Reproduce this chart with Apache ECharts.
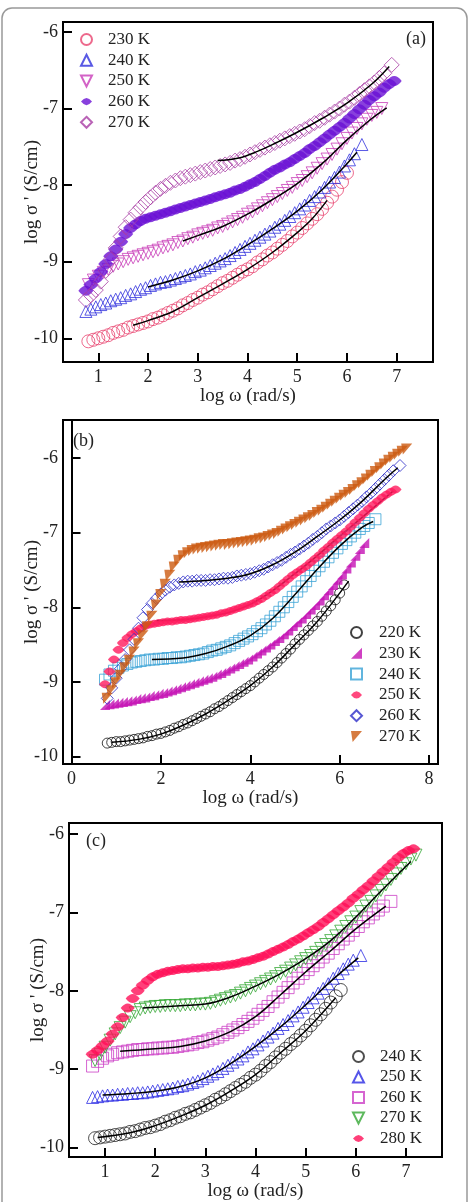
<!DOCTYPE html>
<html>
<head>
<meta charset="utf-8">
<script src="https://cdn.jsdelivr.net/npm/echarts@6/dist/echarts.min.js"></script>
<style>
  html, body { margin: 0; padding: 0; background: #fff; }
  #chart { width: 469px; height: 1202px; }
</style>
</head>
<body>
<div id="chart"></div>
<script>
// tick labels
const xTicksA = [1, 2, 3, 4, 5, 6, 7];
const xTicksB = [0, 2, 4, 6, 8];
const xTicksC = [1, 2, 3, 4, 5, 6, 7];
const yTicks = [-10, -9, -8, -7, -6];

// legend labels
const namesA = ['230 K', '240 K', '250 K', '260 K', '270 K'];
const namesB = ['220 K', '230 K', '240 K', '250 K', '260 K', '270 K'];
const namesC = ['240 K', '250 K', '260 K', '270 K', '280 K'];

// ---- panel (a) ----
const a230 = [[0.8,-10.04],[0.9,-10.02],[1.0,-10.0],[1.1,-9.98],[1.2,-9.96],[1.3,-9.93],[1.4,-9.91],[1.5,-9.89],[1.6,-9.86],[1.7,-9.84],[1.8,-9.82],[1.9,-9.80],[2.0,-9.78],[2.1,-9.75],[2.2,-9.73],[2.3,-9.70],[2.4,-9.67],[2.5,-9.64],[2.6,-9.61],[2.7,-9.57],[2.8,-9.54],[2.9,-9.50],[3.0,-9.47],[3.1,-9.43],[3.2,-9.40],[3.3,-9.36],[3.4,-9.32],[3.5,-9.28],[3.6,-9.25],[3.7,-9.21],[3.8,-9.17],[3.9,-9.13],[4.0,-9.10],[4.1,-9.06],[4.2,-9.01],[4.3,-8.97],[4.4,-8.92],[4.5,-8.88],[4.6,-8.83],[4.7,-8.78],[4.8,-8.73],[4.9,-8.67],[5.0,-8.62],[5.1,-8.56],[5.2,-8.50],[5.3,-8.44],[5.4,-8.38],[5.5,-8.31],[5.6,-8.23],[5.7,-8.15],[5.8,-8.06],[5.9,-7.96],[6.0,-7.84]];
const a230Fit = [[1.7,-9.83],[2.0,-9.77],[2.5,-9.65],[3.0,-9.47],[3.5,-9.29],[4.0,-9.10],[4.5,-8.88],[5.0,-8.62],[5.3,-8.44],[5.6,-8.2]];
const a240 = [[0.75,-9.65],[0.85,-9.62],[0.95,-9.59],[1.05,-9.56],[1.15,-9.54],[1.25,-9.51],[1.35,-9.49],[1.45,-9.47],[1.55,-9.44],[1.65,-9.42],[1.75,-9.39],[1.85,-9.36],[1.95,-9.34],[2.05,-9.31],[2.15,-9.29],[2.25,-9.27],[2.35,-9.26],[2.45,-9.24],[2.55,-9.22],[2.65,-9.20],[2.75,-9.18],[2.85,-9.16],[2.95,-9.13],[3.05,-9.11],[3.15,-9.08],[3.25,-9.05],[3.35,-9.02],[3.45,-8.99],[3.55,-8.96],[3.65,-8.92],[3.75,-8.88],[3.85,-8.84],[3.95,-8.80],[4.05,-8.76],[4.15,-8.72],[4.25,-8.68],[4.35,-8.64],[4.45,-8.60],[4.55,-8.55],[4.65,-8.51],[4.75,-8.46],[4.85,-8.41],[4.95,-8.36],[5.05,-8.31],[5.15,-8.26],[5.25,-8.20],[5.35,-8.15],[5.45,-8.09],[5.55,-8.03],[5.65,-7.96],[5.75,-7.90],[5.85,-7.83],[5.95,-7.75],[6.05,-7.67],[6.15,-7.59],[6.3,-7.47]];
const a240Fit = [[2.0,-9.33],[2.5,-9.24],[3.0,-9.12],[3.5,-8.97],[4.0,-8.78],[4.5,-8.57],[5.0,-8.34],[5.5,-8.06],[6.0,-7.72],[6.2,-7.57]];
const a250 = [[0.8,-9.30],[0.9,-9.24],[1.0,-9.19],[1.1,-9.14],[1.2,-9.10],[1.3,-9.06],[1.4,-9.03],[1.5,-9.00],[1.6,-8.97],[1.7,-8.95],[1.8,-8.93],[1.9,-8.91],[2.0,-8.89],[2.1,-8.87],[2.2,-8.85],[2.3,-8.82],[2.4,-8.80],[2.5,-8.78],[2.6,-8.75],[2.7,-8.73],[2.8,-8.70],[2.9,-8.68],[3.0,-8.65],[3.1,-8.63],[3.2,-8.61],[3.3,-8.59],[3.4,-8.56],[3.5,-8.54],[3.6,-8.51],[3.7,-8.48],[3.8,-8.45],[3.9,-8.42],[4.0,-8.38],[4.1,-8.35],[4.2,-8.31],[4.3,-8.27],[4.4,-8.23],[4.5,-8.19],[4.6,-8.15],[4.7,-8.11],[4.8,-8.07],[4.9,-8.03],[5.0,-7.98],[5.1,-7.94],[5.2,-7.89],[5.3,-7.84],[5.4,-7.78],[5.5,-7.72],[5.6,-7.66],[5.7,-7.60],[5.8,-7.53],[5.9,-7.46],[6.0,-7.39],[6.1,-7.32],[6.2,-7.26],[6.3,-7.20],[6.4,-7.14],[6.5,-7.09],[6.6,-7.05],[6.7,-7.00]];
const a250Fit = [[2.7,-8.73],[3.0,-8.66],[3.5,-8.54],[4.0,-8.38],[4.5,-8.19],[5.0,-7.98],[5.5,-7.72],[6.0,-7.41],[6.5,-7.13],[6.8,-6.99]];
const a260 = [[0.75,-9.38],[0.85,-9.30],[0.95,-9.22],[1.05,-9.13],[1.15,-9.03],[1.25,-8.93],[1.35,-8.84],[1.45,-8.74],[1.55,-8.64],[1.65,-8.56],[1.75,-8.51],[1.85,-8.47],[1.95,-8.44],[2.05,-8.42],[2.15,-8.40],[2.25,-8.38],[2.35,-8.36],[2.45,-8.34],[2.55,-8.32],[2.65,-8.30],[2.75,-8.28],[2.85,-8.26],[2.95,-8.24],[3.05,-8.22],[3.15,-8.20],[3.25,-8.18],[3.35,-8.16],[3.45,-8.14],[3.55,-8.12],[3.65,-8.10],[3.75,-8.07],[3.85,-8.05],[3.95,-8.02],[4.05,-7.99],[4.15,-7.96],[4.25,-7.92],[4.35,-7.88],[4.45,-7.84],[4.55,-7.80],[4.65,-7.77],[4.75,-7.73],[4.85,-7.70],[4.95,-7.66],[5.05,-7.62],[5.15,-7.58],[5.25,-7.53],[5.35,-7.49],[5.45,-7.44],[5.55,-7.39],[5.65,-7.34],[5.75,-7.29],[5.85,-7.24],[5.95,-7.19],[6.05,-7.13],[6.15,-7.07],[6.25,-7.01],[6.35,-6.95],[6.45,-6.89],[6.55,-6.84],[6.65,-6.79],[6.75,-6.73],[6.85,-6.68],[6.95,-6.64]];
const a270 = [[0.75,-9.50],[0.85,-9.44],[0.95,-9.37],[1.05,-9.26],[1.15,-9.12],[1.25,-8.97],[1.35,-8.82],[1.45,-8.67],[1.55,-8.55],[1.65,-8.45],[1.75,-8.36],[1.85,-8.29],[1.95,-8.22],[2.05,-8.16],[2.15,-8.10],[2.25,-8.05],[2.35,-8.01],[2.45,-7.97],[2.55,-7.94],[2.65,-7.91],[2.75,-7.89],[2.85,-7.87],[2.95,-7.85],[3.05,-7.83],[3.15,-7.81],[3.25,-7.79],[3.35,-7.77],[3.45,-7.75],[3.55,-7.73],[3.65,-7.71],[3.75,-7.68],[3.85,-7.66],[3.95,-7.63],[4.05,-7.60],[4.15,-7.57],[4.25,-7.54],[4.35,-7.51],[4.45,-7.48],[4.55,-7.45],[4.65,-7.42],[4.75,-7.39],[4.85,-7.36],[4.95,-7.33],[5.05,-7.30],[5.15,-7.27],[5.25,-7.23],[5.35,-7.19],[5.45,-7.16],[5.55,-7.12],[5.65,-7.08],[5.75,-7.04],[5.85,-7.00],[5.95,-6.95],[6.05,-6.91],[6.15,-6.86],[6.25,-6.81],[6.35,-6.76],[6.45,-6.71],[6.55,-6.66],[6.65,-6.60],[6.75,-6.54],[6.9,-6.43]];
const a270Fit = [[3.4,-7.68],[3.8,-7.65],[4.2,-7.56],[4.6,-7.44],[5.0,-7.31],[5.5,-7.13],[6.0,-6.93],[6.5,-6.68],[6.85,-6.45]];

// ---- panel (b) ----
const b220 = [[0.8,-9.82],[0.9,-9.81],[1.0,-9.80],[1.1,-9.80],[1.2,-9.79],[1.3,-9.78],[1.4,-9.77],[1.5,-9.76],[1.6,-9.75],[1.7,-9.73],[1.8,-9.72],[1.9,-9.70],[2.0,-9.69],[2.1,-9.67],[2.2,-9.65],[2.3,-9.62],[2.4,-9.60],[2.5,-9.57],[2.6,-9.55],[2.7,-9.52],[2.8,-9.49],[2.9,-9.46],[3.0,-9.43],[3.1,-9.40],[3.2,-9.36],[3.3,-9.33],[3.4,-9.29],[3.5,-9.25],[3.6,-9.21],[3.7,-9.17],[3.8,-9.13],[3.9,-9.09],[4.0,-9.05],[4.1,-9.00],[4.2,-8.95],[4.3,-8.90],[4.4,-8.85],[4.5,-8.80],[4.6,-8.74],[4.7,-8.68],[4.8,-8.62],[4.9,-8.56],[5.0,-8.49],[5.1,-8.43],[5.2,-8.37],[5.3,-8.31],[5.4,-8.25],[5.5,-8.19],[5.6,-8.12],[5.7,-8.05],[5.8,-7.98],[5.9,-7.90],[6.0,-7.81],[6.1,-7.70]];
const b220Fit = [[0.9,-9.81],[1.5,-9.77],[2.0,-9.70],[2.5,-9.58],[3.0,-9.43],[3.5,-9.25],[4.0,-9.05],[4.5,-8.80],[5.0,-8.50],[5.5,-8.19],[6.0,-7.81],[6.2,-7.65]];
const b230 = [[0.75,-9.31],[0.85,-9.30],[0.95,-9.29],[1.05,-9.28],[1.15,-9.27],[1.25,-9.26],[1.35,-9.25],[1.45,-9.23],[1.55,-9.22],[1.65,-9.21],[1.75,-9.19],[1.85,-9.18],[1.95,-9.16],[2.05,-9.15],[2.15,-9.13],[2.25,-9.11],[2.35,-9.09],[2.45,-9.07],[2.55,-9.05],[2.65,-9.03],[2.75,-9.01],[2.85,-8.99],[2.95,-8.97],[3.05,-8.95],[3.15,-8.93],[3.25,-8.90],[3.35,-8.88],[3.45,-8.85],[3.55,-8.82],[3.65,-8.79],[3.75,-8.76],[3.85,-8.73],[3.95,-8.70],[4.05,-8.66],[4.15,-8.62],[4.25,-8.58],[4.35,-8.54],[4.45,-8.50],[4.55,-8.45],[4.65,-8.41],[4.75,-8.36],[4.85,-8.31],[4.95,-8.25],[5.05,-8.20],[5.15,-8.15],[5.25,-8.09],[5.35,-8.03],[5.45,-7.97],[5.55,-7.91],[5.65,-7.84],[5.75,-7.77],[5.85,-7.70],[5.95,-7.63],[6.05,-7.56],[6.15,-7.48],[6.25,-7.40],[6.35,-7.31],[6.45,-7.22],[6.55,-7.14]];
const b240 = [[0.75,-8.97],[0.85,-8.90],[0.95,-8.85],[1.05,-8.81],[1.15,-8.78],[1.25,-8.76],[1.35,-8.74],[1.45,-8.73],[1.55,-8.72],[1.65,-8.71],[1.75,-8.70],[1.85,-8.70],[1.95,-8.69],[2.05,-8.69],[2.15,-8.68],[2.25,-8.68],[2.35,-8.67],[2.45,-8.67],[2.55,-8.66],[2.65,-8.65],[2.75,-8.64],[2.85,-8.63],[2.95,-8.62],[3.05,-8.60],[3.15,-8.58],[3.25,-8.57],[3.35,-8.55],[3.45,-8.53],[3.55,-8.51],[3.65,-8.48],[3.75,-8.45],[3.85,-8.42],[3.95,-8.39],[4.05,-8.36],[4.15,-8.32],[4.25,-8.28],[4.35,-8.23],[4.45,-8.18],[4.55,-8.12],[4.65,-8.06],[4.75,-8.00],[4.85,-7.93],[4.95,-7.86],[5.05,-7.79],[5.15,-7.72],[5.25,-7.65],[5.35,-7.58],[5.45,-7.51],[5.55,-7.45],[5.65,-7.39],[5.75,-7.33],[5.85,-7.27],[5.95,-7.21],[6.05,-7.15],[6.15,-7.10],[6.25,-7.05],[6.35,-7.00],[6.45,-6.95],[6.55,-6.91],[6.65,-6.87],[6.8,-6.82]];
const b240Fit = [[1.8,-8.70],[2.5,-8.68],[3.0,-8.62],[3.5,-8.52],[4.0,-8.38],[4.5,-8.15],[5.0,-7.83],[5.5,-7.49],[6.0,-7.18],[6.5,-6.93],[6.75,-6.85]];
const b250 = [[0.75,-9.03],[0.85,-8.86],[0.95,-8.70],[1.05,-8.57],[1.15,-8.48],[1.25,-8.41],[1.35,-8.36],[1.45,-8.32],[1.55,-8.28],[1.65,-8.25],[1.75,-8.23],[1.85,-8.22],[1.95,-8.21],[2.05,-8.20],[2.15,-8.19],[2.25,-8.19],[2.35,-8.18],[2.45,-8.17],[2.55,-8.17],[2.65,-8.16],[2.75,-8.15],[2.85,-8.14],[2.95,-8.13],[3.05,-8.12],[3.15,-8.11],[3.25,-8.10],[3.35,-8.08],[3.45,-8.07],[3.55,-8.05],[3.65,-8.03],[3.75,-8.01],[3.85,-7.99],[3.95,-7.97],[4.05,-7.95],[4.15,-7.92],[4.25,-7.89],[4.35,-7.85],[4.45,-7.81],[4.55,-7.77],[4.65,-7.72],[4.75,-7.67],[4.85,-7.62],[4.95,-7.57],[5.05,-7.53],[5.15,-7.49],[5.25,-7.45],[5.35,-7.40],[5.45,-7.35],[5.55,-7.30],[5.65,-7.24],[5.75,-7.19],[5.85,-7.13],[5.95,-7.08],[6.05,-7.03],[6.15,-6.98],[6.25,-6.92],[6.35,-6.86],[6.45,-6.80],[6.55,-6.74],[6.65,-6.68],[6.75,-6.63],[6.85,-6.58],[6.95,-6.53],[7.05,-6.49],[7.15,-6.45],[7.25,-6.42]];
const b250Fit = [[1.9,-8.18],[3.0,-8.13],[4.0,-7.96],[5.0,-7.55],[6.0,-7.05],[7.2,-6.44]];
const b260 = [[0.8,-9.22],[0.9,-9.08],[1.0,-8.95],[1.1,-8.82],[1.2,-8.70],[1.3,-8.57],[1.4,-8.43],[1.5,-8.28],[1.6,-8.14],[1.7,-8.03],[1.8,-7.95],[1.9,-7.88],[2.0,-7.82],[2.1,-7.77],[2.2,-7.73],[2.3,-7.70],[2.4,-7.68],[2.5,-7.66],[2.6,-7.65],[2.7,-7.65],[2.8,-7.64],[2.9,-7.64],[3.0,-7.64],[3.1,-7.63],[3.2,-7.63],[3.3,-7.62],[3.4,-7.61],[3.5,-7.61],[3.6,-7.60],[3.7,-7.58],[3.8,-7.57],[3.9,-7.56],[4.0,-7.55],[4.1,-7.53],[4.2,-7.51],[4.3,-7.49],[4.4,-7.46],[4.5,-7.43],[4.6,-7.40],[4.7,-7.37],[4.8,-7.33],[4.9,-7.29],[5.0,-7.26],[5.1,-7.22],[5.2,-7.18],[5.3,-7.14],[5.4,-7.09],[5.5,-7.05],[5.6,-7.00],[5.7,-6.95],[5.8,-6.91],[5.9,-6.87],[6.0,-6.83],[6.1,-6.78],[6.2,-6.73],[6.3,-6.68],[6.4,-6.63],[6.5,-6.58],[6.6,-6.52],[6.7,-6.47],[6.8,-6.41],[6.9,-6.35],[7.0,-6.29],[7.1,-6.23],[7.2,-6.17],[7.35,-6.10]];
const b260Fit = [[2.4,-7.66],[3.0,-7.64],[3.5,-7.61],[4.0,-7.55],[4.5,-7.43],[5.0,-7.26],[5.5,-7.05],[6.0,-6.83],[6.5,-6.58],[7.0,-6.29],[7.3,-6.13]];
const b270 = [[0.8,-9.22],[0.9,-9.12],[1.0,-9.01],[1.1,-8.91],[1.2,-8.81],[1.3,-8.71],[1.4,-8.60],[1.5,-8.49],[1.6,-8.38],[1.7,-8.26],[1.8,-8.12],[1.9,-7.97],[2.0,-7.83],[2.1,-7.69],[2.2,-7.57],[2.3,-7.46],[2.4,-7.37],[2.5,-7.31],[2.6,-7.27],[2.7,-7.24],[2.8,-7.22],[2.9,-7.21],[3.0,-7.20],[3.1,-7.19],[3.2,-7.18],[3.3,-7.17],[3.4,-7.16],[3.5,-7.16],[3.6,-7.15],[3.7,-7.14],[3.8,-7.13],[3.9,-7.12],[4.0,-7.11],[4.1,-7.10],[4.2,-7.08],[4.3,-7.07],[4.4,-7.05],[4.5,-7.03],[4.6,-7.01],[4.7,-6.98],[4.8,-6.95],[4.9,-6.92],[5.0,-6.89],[5.1,-6.86],[5.2,-6.83],[5.3,-6.80],[5.4,-6.77],[5.5,-6.73],[5.6,-6.70],[5.7,-6.66],[5.8,-6.62],[5.9,-6.58],[6.0,-6.54],[6.1,-6.50],[6.2,-6.46],[6.3,-6.42],[6.4,-6.37],[6.5,-6.33],[6.6,-6.28],[6.7,-6.23],[6.8,-6.18],[6.9,-6.13],[7.0,-6.08],[7.1,-6.03],[7.2,-5.99],[7.3,-5.95],[7.4,-5.91],[7.5,-5.88]];

// ---- panel (c) ----
const c240 = [[0.8,-9.88],[0.9,-9.87],[1.0,-9.86],[1.1,-9.85],[1.2,-9.84],[1.3,-9.83],[1.4,-9.82],[1.5,-9.80],[1.6,-9.79],[1.7,-9.77],[1.8,-9.75],[1.9,-9.74],[2.0,-9.72],[2.1,-9.70],[2.2,-9.67],[2.3,-9.65],[2.4,-9.62],[2.5,-9.60],[2.6,-9.57],[2.7,-9.55],[2.8,-9.52],[2.9,-9.49],[3.0,-9.46],[3.1,-9.43],[3.2,-9.39],[3.3,-9.36],[3.4,-9.32],[3.5,-9.28],[3.6,-9.24],[3.7,-9.20],[3.8,-9.16],[3.9,-9.11],[4.0,-9.07],[4.1,-9.02],[4.2,-8.96],[4.3,-8.91],[4.4,-8.85],[4.5,-8.79],[4.6,-8.74],[4.7,-8.68],[4.8,-8.63],[4.9,-8.57],[5.0,-8.51],[5.1,-8.44],[5.2,-8.37],[5.3,-8.30],[5.4,-8.23],[5.5,-8.15],[5.6,-8.07],[5.7,-7.99]];
const c240Fit = [[0.85,-9.87],[1.5,-9.81],[2.0,-9.72],[2.5,-9.60],[3.0,-9.46],[3.5,-9.28],[4.0,-9.07],[4.5,-8.79],[5.0,-8.51],[5.6,-8.09]];
const c250 = [[0.75,-9.36],[0.85,-9.35],[0.95,-9.34],[1.05,-9.33],[1.15,-9.33],[1.25,-9.32],[1.35,-9.32],[1.45,-9.31],[1.55,-9.31],[1.65,-9.30],[1.75,-9.30],[1.85,-9.29],[1.95,-9.28],[2.05,-9.27],[2.15,-9.26],[2.25,-9.25],[2.35,-9.24],[2.45,-9.22],[2.55,-9.21],[2.65,-9.19],[2.75,-9.17],[2.85,-9.15],[2.95,-9.12],[3.05,-9.09],[3.15,-9.06],[3.25,-9.03],[3.35,-8.99],[3.45,-8.95],[3.55,-8.91],[3.65,-8.87],[3.75,-8.83],[3.85,-8.78],[3.95,-8.74],[4.05,-8.69],[4.15,-8.64],[4.25,-8.59],[4.35,-8.54],[4.45,-8.48],[4.55,-8.43],[4.65,-8.38],[4.75,-8.32],[4.85,-8.27],[4.95,-8.21],[5.05,-8.15],[5.15,-8.09],[5.25,-8.03],[5.35,-7.97],[5.45,-7.91],[5.55,-7.84],[5.65,-7.78],[5.75,-7.72],[5.85,-7.66],[5.95,-7.61],[6.1,-7.55]];
const c250Fit = [[0.95,-9.33],[1.5,-9.31],[2.0,-9.28],[2.5,-9.22],[3.0,-9.11],[3.5,-8.93],[4.0,-8.71],[4.5,-8.46],[5.0,-8.18],[5.5,-7.88],[6.05,-7.58]];
const c260 = [[0.75,-8.96],[0.85,-8.90],[0.95,-8.86],[1.05,-8.83],[1.15,-8.81],[1.25,-8.79],[1.35,-8.78],[1.45,-8.77],[1.55,-8.76],[1.65,-8.75],[1.75,-8.75],[1.85,-8.74],[1.95,-8.74],[2.05,-8.73],[2.15,-8.73],[2.25,-8.72],[2.35,-8.72],[2.45,-8.71],[2.55,-8.70],[2.65,-8.69],[2.75,-8.68],[2.85,-8.66],[2.95,-8.65],[3.05,-8.63],[3.15,-8.61],[3.25,-8.59],[3.35,-8.56],[3.45,-8.53],[3.55,-8.50],[3.65,-8.47],[3.75,-8.43],[3.85,-8.39],[3.95,-8.35],[4.05,-8.30],[4.15,-8.25],[4.25,-8.20],[4.35,-8.14],[4.45,-8.08],[4.55,-8.02],[4.65,-7.96],[4.75,-7.90],[4.85,-7.84],[4.95,-7.78],[5.05,-7.73],[5.15,-7.68],[5.25,-7.63],[5.35,-7.57],[5.45,-7.52],[5.55,-7.46],[5.65,-7.40],[5.75,-7.34],[5.85,-7.29],[5.95,-7.23],[6.05,-7.18],[6.15,-7.12],[6.25,-7.07],[6.35,-7.02],[6.45,-6.97],[6.55,-6.92],[6.7,-6.86]];
const c260Fit = [[1.3,-8.77],[2.0,-8.74],[2.5,-8.71],[3.0,-8.64],[3.5,-8.52],[4.0,-8.33],[4.5,-8.05],[5.0,-7.76],[5.5,-7.49],[6.0,-7.21],[6.6,-6.92]];
const c270 = [[0.8,-8.89],[0.9,-8.81],[1.0,-8.72],[1.1,-8.63],[1.2,-8.55],[1.3,-8.47],[1.4,-8.40],[1.5,-8.33],[1.6,-8.28],[1.7,-8.24],[1.8,-8.22],[1.9,-8.21],[2.0,-8.20],[2.1,-8.20],[2.2,-8.19],[2.3,-8.19],[2.4,-8.19],[2.5,-8.19],[2.6,-8.18],[2.7,-8.18],[2.8,-8.18],[2.9,-8.17],[3.0,-8.17],[3.1,-8.16],[3.2,-8.14],[3.3,-8.12],[3.4,-8.10],[3.5,-8.08],[3.6,-8.06],[3.7,-8.03],[3.8,-8.00],[3.9,-7.97],[4.0,-7.94],[4.1,-7.91],[4.2,-7.88],[4.3,-7.85],[4.4,-7.82],[4.5,-7.78],[4.6,-7.75],[4.7,-7.71],[4.8,-7.67],[4.9,-7.63],[5.0,-7.59],[5.1,-7.55],[5.2,-7.51],[5.3,-7.46],[5.4,-7.41],[5.5,-7.36],[5.6,-7.30],[5.7,-7.24],[5.8,-7.18],[5.9,-7.12],[6.0,-7.06],[6.1,-6.99],[6.2,-6.92],[6.3,-6.86],[6.4,-6.79],[6.5,-6.72],[6.6,-6.65],[6.7,-6.58],[6.8,-6.51],[6.9,-6.44],[7.0,-6.38],[7.1,-6.32],[7.2,-6.27]];
const c270Fit = [[1.75,-8.22],[2.5,-8.19],[3.0,-8.17],[3.5,-8.08],[4.0,-7.94],[4.5,-7.78],[5.0,-7.59],[5.5,-7.36],[6.0,-7.06],[6.5,-6.73],[7.1,-6.35]];
const c280 = [[0.75,-8.81],[0.85,-8.76],[0.95,-8.70],[1.05,-8.64],[1.15,-8.55],[1.25,-8.46],[1.35,-8.34],[1.45,-8.22],[1.55,-8.10],[1.65,-8.00],[1.75,-7.93],[1.85,-7.87],[1.95,-7.82],[2.05,-7.79],[2.15,-7.77],[2.25,-7.75],[2.35,-7.74],[2.45,-7.73],[2.55,-7.72],[2.65,-7.72],[2.75,-7.71],[2.85,-7.71],[2.95,-7.70],[3.05,-7.70],[3.15,-7.69],[3.25,-7.69],[3.35,-7.68],[3.45,-7.67],[3.55,-7.66],[3.65,-7.65],[3.75,-7.63],[3.85,-7.62],[3.95,-7.60],[4.05,-7.58],[4.15,-7.56],[4.25,-7.53],[4.35,-7.50],[4.45,-7.47],[4.55,-7.44],[4.65,-7.41],[4.75,-7.37],[4.85,-7.34],[4.95,-7.30],[5.05,-7.26],[5.15,-7.22],[5.25,-7.18],[5.35,-7.13],[5.45,-7.08],[5.55,-7.03],[5.65,-6.98],[5.75,-6.93],[5.85,-6.88],[5.95,-6.82],[6.05,-6.77],[6.15,-6.71],[6.25,-6.66],[6.35,-6.60],[6.45,-6.54],[6.55,-6.48],[6.65,-6.42],[6.75,-6.36],[6.85,-6.30],[6.95,-6.25],[7.05,-6.21],[7.15,-6.19]];

// marker shapes
const TRI_DOWN = 'path://M0,0 L10,0 L5,10 Z';
const LENS = 'path://M0,5 Q5,-1.5 10,5 Q5,11.5 0,5 Z';
const WEDGE = 'path://M10,0 L10,10 L0,10 Z';
const FLAG = 'path://M0,0 L10,0 L1.5,10 Z';

const SERIF = '"Liberation Serif", "DejaVu Serif", serif';
const chart = echarts.init(document.getElementById('chart'));

// scatter series, hollow markers get a transparent fill
function pts(key, data, gi, symbol, size, color, hollow) {
    return {
        type: 'scatter', name: key, data: data,
        xAxisIndex: gi, yAxisIndex: gi,
        symbol: symbol, symbolSize: size,
        itemStyle: hollow
            ? { color: 'rgba(255,255,255,0)', borderColor: color, borderWidth: 1 }
            : { color: color },
        z: 2
    };
}
// black fit line (under = hidden below filled markers)
function fit(data, gi, under) {
    return {
        type: 'line', data: data, xAxisIndex: gi, yAxisIndex: gi,
        smooth: 0.4, showSymbol: false, silent: true,
        lineStyle: { color: '#000', width: 1.5 }, z: under ? 1 : 4
    };
}

function xAx(gi, min, max, ticks) {
    return {
        type: 'value', gridIndex: gi, min: min, max: max,
        name: 'log ω (rad/s)', nameLocation: 'middle', nameGap: 25, nameMoveOverlap: false,
        nameTextStyle: { fontFamily: SERIF, fontSize: 19, color: '#222' },
        axisLine: { lineStyle: { color: '#000', width: 2 } },
        axisTick: { inside: true, length: 9, customValues: ticks, lineStyle: { color: '#000', width: 2 } },
        axisLabel: { customValues: ticks, margin: 6, fontFamily: SERIF, fontSize: 18, color: '#222' },
        splitLine: { show: false }
    };
}
function yAx(gi, min, max) {
    return {
        type: 'value', gridIndex: gi, min: min, max: max,
        name: "log σ ' (S/cm)", nameLocation: 'middle', nameGap: 21, nameMoveOverlap: false,
        nameTextStyle: { fontFamily: SERIF, fontSize: 19, color: '#222' },
        axisLine: { lineStyle: { color: '#000', width: 2 } },
        axisTick: { inside: true, length: 9, customValues: yTicks, lineStyle: { color: '#000', width: 2 } },
        axisLabel: { customValues: yTicks, margin: 5, fontFamily: SERIF, fontSize: 18, color: '#222' },
        splitLine: { show: false }
    };
}
function leg(prefix, names, left, top, pad, gap) {
    return {
        data: names.map(n => prefix + n), orient: 'vertical', left: left, top: top,
        padding: 0, itemWidth: 11, itemHeight: 11, itemGap: gap, selectedMode: false,
        formatter: n => n.slice(prefix.length),
        textStyle: { fontFamily: SERIF, fontSize: 17, lineHeight: 17, color: '#222', padding: [0, 0, 0, pad] }
    };
}
function gridBox(left, top, width, height) {
    return { left: left, top: top, width: width, height: height, show: true, borderColor: '#000', borderWidth: 2 };
}

const option = {
    animation: false,
    backgroundColor: '#fff',
    grid: [gridBox(63, 22, 370, 340), gridBox(63, 420, 375, 344), gridBox(69, 823, 373, 344)],
    xAxis: [xAx(0, 0.29, 7.73, xTicksA), xAx(1, -0.19, 8.2, xTicksB), xAx(2, 0.28, 7.72, xTicksC)],
    yAxis: [yAx(0, -10.31, -5.87), yAx(1, -10.1, -5.49), yAx(2, -10.12, -5.86)],
    legend: [leg('a:', namesA, 80, 31, 11, 3.7), leg('b:', namesB, 350, 624, 12, 3.8), leg('c:', namesC, 352, 1048, 11, 3.5)],
    graphic: [
        { type: 'rect', shape: { x: 2, y: 8, width: 465, height: 1215, r: 10 }, style: { fill: 'none', stroke: '#999', lineWidth: 1.5 }, silent: true },
        { type: 'text', left: 406, top: 30, style: { text: '(a)', font: '18px ' + SERIF, fill: '#222' } },
        { type: 'text', left: 73, top: 432, style: { text: '(b)', font: '18px ' + SERIF, fill: '#222' } },
        { type: 'text', left: 86, top: 832, style: { text: '(c)', font: '18px ' + SERIF, fill: '#222' } }
    ],
    series: [
        pts('a:230 K', a230, 0, 'circle', 13, '#e8436f', true),
        pts('a:240 K', a240, 0, 'triangle', 12, '#3030dd', true),
        pts('a:250 K', a250, 0, TRI_DOWN, 12, '#c83cb8', true),
        pts('a:260 K', a260, 0, LENS, [15, 10], '#6a10d4', false),
        pts('a:270 K', a270, 0, 'diamond', 15, '#a83ca4', true),
        fit(a230Fit, 0), fit(a240Fit, 0), fit(a250Fit, 0), fit(a270Fit, 0),

        pts('b:220 K', b220, 1, 'circle', 10, '#111', true),
        pts('b:230 K', b230, 1, WEDGE, 10, '#c412b4', false),
        pts('b:240 K', b240, 1, 'rect', 11, '#3aa2d6', true),
        pts('b:250 K', b250, 1, LENS, [12, 8], '#ff1a5e', false),
        pts('b:260 K', b260, 1, 'diamond', 12, '#2c2cc8', true),
        pts('b:270 K', b270, 1, FLAG, 11, '#cc5a10', false),
        fit(b220Fit, 1), fit(b240Fit, 1), fit(b250Fit, 1, true), fit(b260Fit, 1),

        pts('c:240 K', c240, 2, 'circle', 13, '#222', true),
        pts('c:250 K', c250, 2, 'triangle', 12, '#2a2ae4', true),
        pts('c:260 K', c260, 2, 'rect', 12, '#cc3ec6', true),
        pts('c:270 K', c270, 2, TRI_DOWN, 12, '#34a834', true),
        pts('c:280 K', c280, 2, LENS, [14, 9], '#ff0f58', false),
        fit(c240Fit, 2), fit(c250Fit, 2), fit(c260Fit, 2), fit(c270Fit, 2)
    ]
};
chart.setOption(option);
</script>
</body>
</html>
